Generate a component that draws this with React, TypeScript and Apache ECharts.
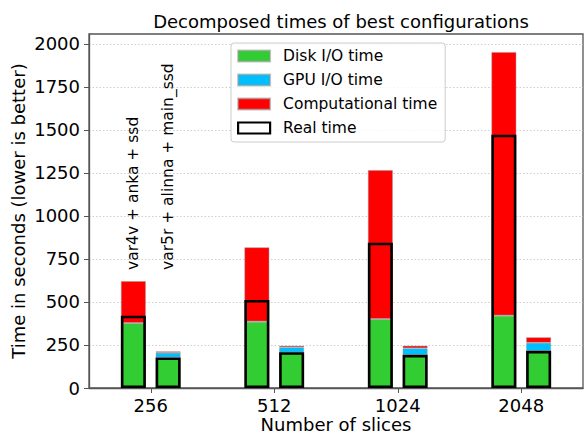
import React, { useEffect, useRef } from "react";
import * as echarts from "echarts";

const categories = ["256", "512", "1024", "2048"];
const seriesNames = ["Disk I/O time", "GPU I/O time", "Computational time", "Real time"];
const configNames = ["var4v + anka + ssd", "var5r + alinna + main_ssd"];

// configuration A: var4v + anka + ssd
const diskA = [376, 385, 399, 420];
const gpuA = [2, 2, 2, 2];
const compA = [244, 431, 866, 1531];
const realA = [420, 512, 845, 1473];

// configuration B: var5r + alinna + main_ssd
const diskB = [177, 207, 192, 215];
const gpuB = [28, 30, 39, 48];
const compB = [8, 9, 15, 32];
const realB = [178, 208, 193, 216];

// annotation anchor (data value where the rotated labels start), only at 256
const annotationA = [686, null, null, null];
const annotationB = [686, null, null, null];

const yTicks = [0, 250, 500, 750, 1000, 1250, 1500, 1750, 2000];
const yMax = 2058;

const FONT = "DejaVu Sans";
const COLORS = { disk: "#32CD32", gpu: "#00BFFF", comp: "#FF0000" };

export default function App() {
  const ref = useRef<HTMLDivElement>(null);

  useEffect(() => {
    if (!ref.current) return;
    const chart = echarts.init(ref.current, undefined, { renderer: "svg" });
    const barW = 25;
    const gap = "39%";
    const thinEdge = { borderColor: "rgba(150,150,150,0.55)", borderWidth: 0.8 };
    const stackSeries = (name: string, data: number[], stack: string, color: string) => ({
      name,
      type: "bar",
      stack,
      data,
      xAxisIndex: 0,
      barWidth: barW,
      barGap: gap,
      itemStyle: { color, ...thinEdge },
      z: 2,
    });
    const realSeries = (data: number[]) => ({
      name: seriesNames[3],
      type: "bar",
      data,
      xAxisIndex: 1,
      barWidth: barW,
      barGap: gap,
      itemStyle: { color: "transparent", borderColor: "#000", borderWidth: 2.6 },
      z: 3,
    });
    const noteSeries = (name: string, data: (number | null)[], text: string) => ({
      name,
      type: "bar",
      data,
      xAxisIndex: 2,
      barWidth: barW,
      barGap: gap,
      silent: true,
      itemStyle: { color: "transparent" },
      label: {
        show: true,
        position: "top",
        distance: 0,
        rotate: 90,
        align: "left",
        verticalAlign: "middle",
        formatter: () => text,
        fontSize: 15.5,
        fontFamily: FONT,
        color: "#000",
      },
      z: 4,
    });

    const hiddenX = {
      type: "category",
      data: categories,
      gridIndex: 0,
      show: false,
    };

    chart.setOption({
      animation: false,
      backgroundColor: "#fff",
      title: {
        text: "Decomposed times of best configurations",
        left: 336,
        textAlign: "center",
        top: 7,
        textStyle: { fontFamily: FONT, fontSize: 18, fontWeight: "normal", color: "#000" },
      },
      legend: {
        orient: "vertical",
        left: 231,
        top: 43,
        data: [
          seriesNames[0],
          seriesNames[1],
          seriesNames[2],
          { name: seriesNames[3], itemStyle: { color: "#fff", borderColor: "#000", borderWidth: 2.2 } },
        ],
        icon: "rect",
        itemWidth: 32,
        itemHeight: 11,
        itemGap: 8,
        padding: [5, 8, 6, 6],
        backgroundColor: "rgba(255,255,255,0.8)",
        borderColor: "#cccccc",
        borderWidth: 1,
        borderRadius: 3,
        textStyle: { fontFamily: FONT, fontSize: 15.5, color: "#000", padding: [0, 0, 0, 8] },
        selectedMode: false,
      },
      grid: {
        left: 89,
        right: 3,
        top: 34,
        bottom: 47,
        containLabel: false,
        outerBoundsMode: "none",
        show: true,
        borderColor: "#555",
        borderWidth: 1.3,
        backgroundColor: "transparent",
      },
      xAxis: [
        {
          type: "category",
          data: categories,
          name: "Number of slices",
          nameLocation: "middle",
          nameGap: 27,
          nameMoveOverlap: false,
          nameTextStyle: { fontFamily: FONT, fontSize: 18, color: "#000", lineHeight: 18 },
          axisLine: { show: true, lineStyle: { color: "#555", width: 1.3 } },
          axisTick: { show: true, alignWithLabel: true, length: 5, lineStyle: { color: "#555" } },
          axisLabel: { fontFamily: FONT, fontSize: 18, color: "#000", margin: 8 },
          splitLine: { show: false },
        },
        hiddenX,
        hiddenX,
      ],
      yAxis: {
        type: "value",
        min: 0,
        max: yMax,
        interval: 250,
        name: "Time in seconds (lower is better)",
        nameLocation: "middle",
        nameGap: 62,
        nameMoveOverlap: false,
        nameTextStyle: { fontFamily: FONT, fontSize: 18, color: "#000" },
        axisLine: { show: true, lineStyle: { color: "#555", width: 1.3 } },
        axisTick: { show: true, length: 5, lineStyle: { color: "#555" }, customValues: yTicks },
        axisLabel: {
          fontFamily: FONT,
          fontSize: 18,
          color: "#000",
          margin: 9,
          customValues: yTicks,
          formatter: (v: number) => String(v),
        },
        splitLine: { show: true, lineStyle: { color: "#cfcfcf", type: [1.5, 2], width: 1 } },
      },
      series: [
        stackSeries(seriesNames[0], diskA, "A", COLORS.disk),
        stackSeries(seriesNames[1], gpuA, "A", COLORS.gpu),
        stackSeries(seriesNames[2], compA, "A", COLORS.comp),
        stackSeries(seriesNames[0], diskB, "B", COLORS.disk),
        stackSeries(seriesNames[1], gpuB, "B", COLORS.gpu),
        stackSeries(seriesNames[2], compB, "B", COLORS.comp),
        realSeries(realA),
        realSeries(realB),
        noteSeries("noteA", annotationA, configNames[0]),
        noteSeries("noteB", annotationB, configNames[1]),
      ],
    });
    return () => chart.dispose();
  }, []);

  return (
    <div
      ref={ref}
      style={{ position: "fixed", left: 0, top: 0, width: 586, height: 435, background: "#fff" }}
    />
  );
}
